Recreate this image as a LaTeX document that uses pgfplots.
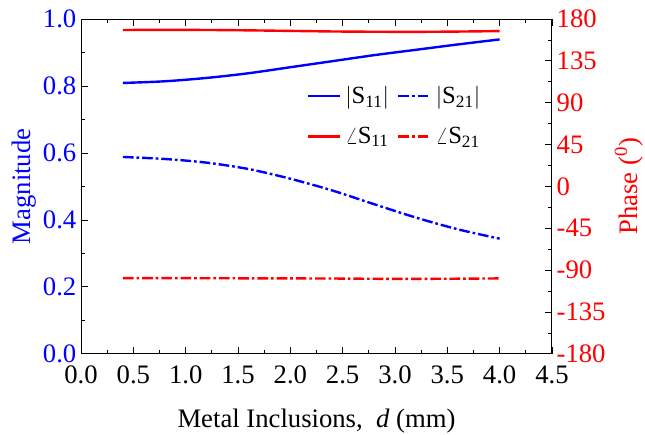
\documentclass[border=0pt]{standalone}
\usepackage{pgfplots}
\pgfplotsset{compat=1.18}
\usepackage{fontspec}
\setmainfont{Liberation Serif}
\definecolor{myblue}{RGB}{0,0,255}
\definecolor{myred}{RGB}{255,0,0}
\tikzset{dd/.style={dash pattern=on 8pt off 2.2pt on 2pt off 2.2pt}}
\begin{document}
\begin{tikzpicture}
\pgfplotsset{
  every axis/.append style={
    scale only axis, width=353pt, height=251pt,
    xmin=0, xmax=4.5,
    tick align=inside,
    major tick length=5pt, minor tick length=3pt,
    /pgf/number format/assume math mode=true,
    tick label style={font=\fontsize{20}{24}\selectfont},
    label style={font=\fontsize{20}{24}\selectfont},
    every tick/.style={black, line width=0.6pt},
    axis line style={line width=0.7pt},
  }
}
\begin{axis}[
  axis y line*=left,
  ymin=0, ymax=1,
  ytick={0,0.2,...,1.0},
  minor y tick num=1,
  xtick={0,0.5,...,4.5},
  minor x tick num=1,
  xticklabel style={yshift=-5.5pt, /pgf/number format/.cd, fixed, fixed zerofill, precision=1},
  yticklabel style={color=myblue, /pgf/number format/.cd, fixed, fixed zerofill, precision=1},
  xlabel={Metal Inclusions,\ \ \textit{d} (mm)},
  ylabel={Magnitude},
  ylabel style={color=myblue, yshift=-2pt},
  xlabel style={yshift=-12pt},
]
\addplot[myblue, line width=1.8pt, smooth] coordinates {
(0.4,0.809) (0.8,0.814) (1.2,0.824) (1.6,0.838) (2.0,0.856) (2.4,0.874) (2.8,0.892) (3.2,0.908) (3.6,0.924) (4.0,0.939)};
\addplot[myblue, line width=1.8pt, dd, smooth] coordinates {
(0.4,0.588) (0.8,0.582) (1.2,0.571) (1.6,0.552) (2.0,0.523) (2.4,0.488) (2.8,0.447) (3.2,0.407) (3.6,0.372) (4.0,0.344)};
\end{axis}
\begin{axis}[
  axis y line*=right,
  axis x line=none,
  ymin=-180, ymax=180,
  ytick={-180,-135,...,180},
  minor y tick num=1,
  yticklabel style={color=myred},
  ylabel={Phase (\textsuperscript{0})},
  ylabel style={color=myred},
  legend style={draw=none, fill=none, at={(0.47,0.815)}, anchor=north west,
    font=\fontsize{18.5}{22}\selectfont, legend columns=2,
    /tikz/every even column/.append style={column sep=4pt},
    /tikz/every odd column/.append style={column sep=1pt},
    row sep=12pt},
  legend cell align=left,
  legend image code/.code={\draw[#1] (0cm,0cm) -- (0.85cm,0cm);},
]
\addplot[myred, line width=1.8pt, smooth, forget plot] coordinates {
(0.4,168.2) (0.8,168.3) (1.2,168.2) (1.6,167.8) (2.0,167.2) (2.4,166.6) (2.8,166.3) (3.2,166.2) (3.6,166.5) (4.0,167.0)};
\addplot[myred, line width=1.8pt, dd, forget plot] coordinates {
(0.4,-98.6) (0.8,-98.6) (1.2,-98.7) (1.6,-98.8) (2.0,-98.9) (2.4,-99.0) (2.8,-99.3) (3.2,-99.4) (3.6,-99.2) (4.0,-98.9)};
\addlegendimage{myblue, line width=1.8pt}
\addlegendimage{myblue, line width=1.8pt, dd}
\addlegendimage{myred, line width=1.8pt}
\addlegendimage{myred, line width=1.8pt, dd}
\legend{{$|$S\textsubscript{11}$|$},{$|$S\textsubscript{21}$|$},{$\angle$S\textsubscript{11}},{$\angle$S\textsubscript{21}}}
\end{axis}
\pgfresetboundingbox
\useasboundingbox (-60.75pt,-60.75pt) rectangle (422.75pt,265.25pt);
\end{tikzpicture}
\end{document}
